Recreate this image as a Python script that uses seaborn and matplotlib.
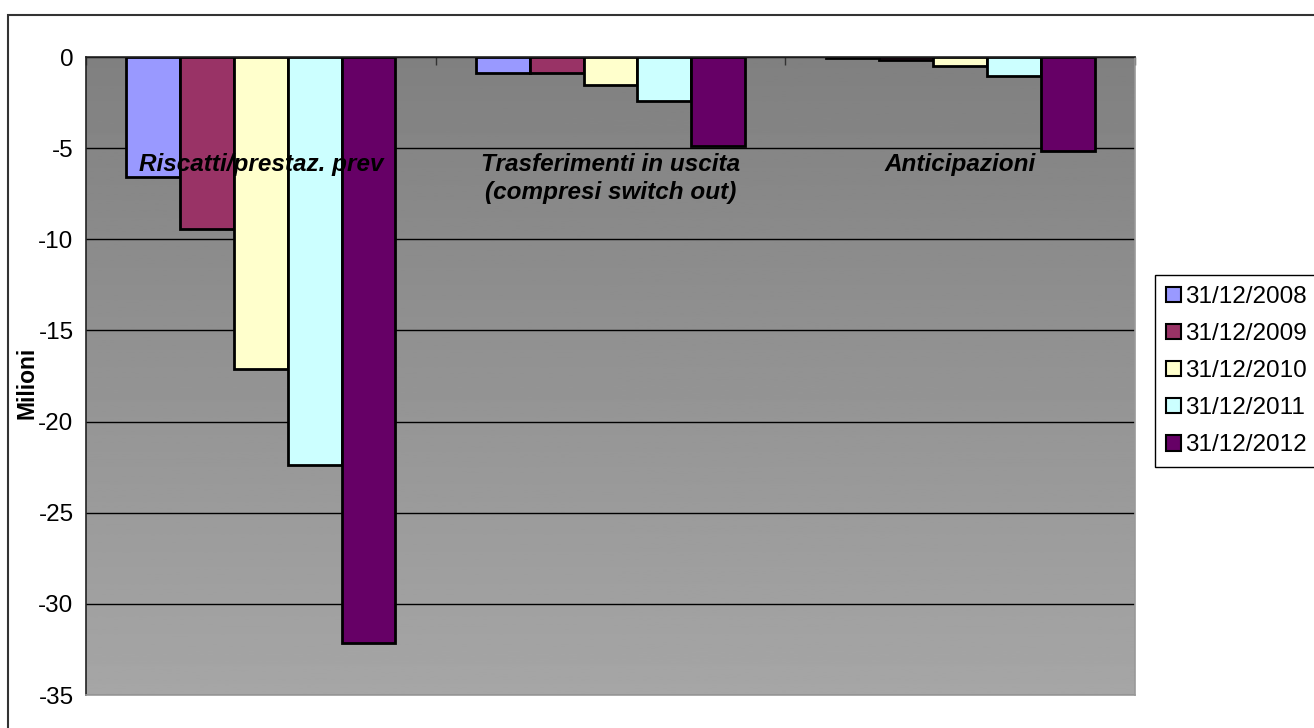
import numpy as np
import pandas as pd
import matplotlib.pyplot as plt
import matplotlib.patches as mpatches
import seaborn as sns

# data (milioni)
categorie = ["Riscatti/prestaz. prev",
             "Trasferimenti in uscita\n(compresi switch out)",
             "Anticipazioni"]
date = ["31/12/2008", "31/12/2009", "31/12/2010", "31/12/2011", "31/12/2012"]
riscatti = [-6.6, -9.45, -17.1, -22.4, -32.15]
trasferimenti = [-0.86, -0.87, -1.55, -2.4, -4.88]
anticipazioni = [-0.05, -0.18, -0.47, -1.05, -5.15]
colori = ["#9999FF", "#993366", "#FFFFCC", "#CCFFFF", "#660066"]
y_ticks = [0, -5, -10, -15, -20, -25, -30, -35]

rows = []
for cat, vals in zip(categorie, [riscatti, trasferimenti, anticipazioni]):
    for d, v in zip(date, vals):
        rows.append({"categoria": cat, "data": d, "valore": v})
df = pd.DataFrame(rows)

sns.set_style("white")
plt.rcParams['font.family'] = ['Liberation Sans', 'DejaVu Sans']
plt.rcParams['axes.unicode_minus'] = False
plt.rcParams['text.color'] = 'black'
plt.rcParams['ytick.color'] = 'black'

FS = 17.5

fig = plt.figure(figsize=(13.14, 7.28), dpi=100)
ax = fig.add_axes([86 / 1314, 1 - 695 / 728, (1135 - 86) / 1314, (695 - 57) / 728])

# gradient background like the Excel plot area
grad = np.linspace(128, 166, 256).reshape(-1, 1)
ax.imshow(grad, extent=[-0.5, 2.5, -35, 0], aspect='auto', cmap='gray',
          vmin=0, vmax=255, origin='upper', zorder=0)

sns.barplot(data=df, x="categoria", y="valore", hue="data", palette=colori,
            width=0.77, gap=0, saturation=1, edgecolor="black", linewidth=2,
            ax=ax, legend=False, zorder=2)

ax.set_xlim(-0.5, 2.5)
ax.set_ylim(-35, 0)
ax.set_yticks(y_ticks)
ax.set_yticklabels([str(t) for t in y_ticks], fontsize=FS, color="black")
ax.yaxis.grid(True, color="black", linewidth=1, zorder=1)
ax.set_axisbelow(True)

# category axis sits at zero with ticks between the groups
ax.xaxis.tick_top()
ax.set_xticks([-0.5, 0.5, 1.5, 2.5])
ax.set_xticklabels([])
ax.tick_params(axis='x', direction='in', length=6, width=1, color="#333333")
ax.tick_params(axis='y', direction='out', length=6, width=1, color="#333333", pad=3)
ax.set_xlabel("")
ax.set_ylabel("")
for side in ["left", "top"]:
    ax.spines[side].set_color("#222222")
    ax.spines[side].set_linewidth(1.2)
for side in ["right", "bottom"]:
    ax.spines[side].set_color("#999999")
    ax.spines[side].set_linewidth(1.2)

for i, cat in enumerate(categorie):
    ax.text(i, -5.25, cat, ha="center", va="top", fontsize=FS, color="black",
            fontweight="bold", fontstyle="italic", linespacing=1.3, zorder=5)

fig.text(27 / 1314, 1 - 383 / 728, "Milioni", rotation=90, ha="center",
         va="center", fontsize=16.5, fontweight="bold", color="black")

handles = [mpatches.Patch(facecolor=c, edgecolor="black", linewidth=1.5, label=d)
           for c, d in zip(colori, date)]
leg = fig.legend(handles=handles, loc="upper left",
                 bbox_to_anchor=(1155 / 1314, 1 - 275 / 728), fontsize=FS,
                 frameon=True, fancybox=False, framealpha=1, edgecolor="black",
                 handlelength=0.62, handleheight=0.62, handletextpad=0.15,
                 labelspacing=0.62, borderpad=0.45, borderaxespad=0)
leg.get_frame().set_linewidth(1)

# outer chart border
fig.patches.append(mpatches.Rectangle((8 / 1314, -0.05), 1.2, 1 - 15 / 728 + 0.05,
                                      transform=fig.transFigure, fill=False,
                                      edgecolor="#333333", linewidth=1.5))

fig.savefig("out.png", dpi=100)
